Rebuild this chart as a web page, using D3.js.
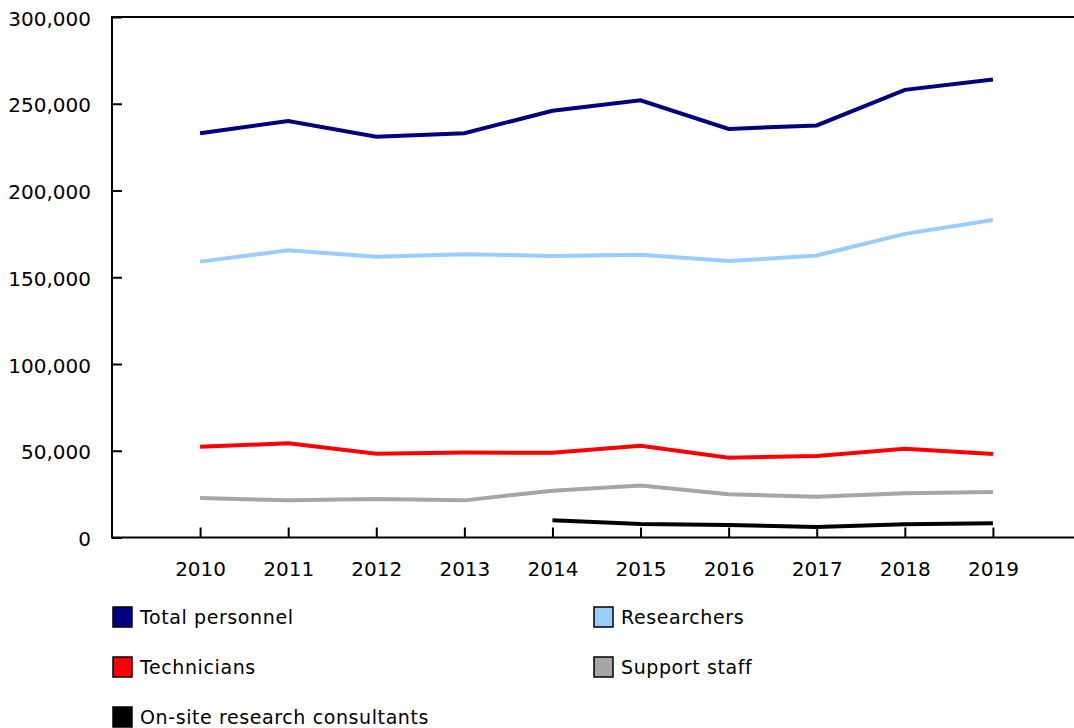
<!DOCTYPE html>
<html lang="en">
<head>
<meta charset="utf-8">
<title>Research personnel</title>
<script src="https://cdn.jsdelivr.net/npm/d3@7"></script>
<style>
  body { margin: 0; background: #fff; }
  svg text { font-family: Verdana, "DejaVu Sans", sans-serif; font-size: 19px; fill: #000; }
  .legend text { letter-spacing: 0.6px; }
</style>
</head>
<body>
<div id="chart"></div>
<script>

// data
var years = ["2010","2011","2012","2013","2014","2015","2016","2017","2018","2019"];
var yTicks = [0, 50000, 100000, 150000, 200000, 250000, 300000];

var totalPersonnel = [233000, 240000, 231000, 233000, 246000, 252000, 235500, 237500, 258000, 264000];
var researchers    = [159000, 165500, 161800, 163300, 162300, 163000, 159300, 162500, 175000, 183000];
var technicians    = [52300, 54300, 48300, 49000, 48800, 52900, 46000, 47000, 51200, 48100];
var supportStaff   = [22800, 21400, 22200, 21400, 27000, 30000, 24900, 23500, 25500, 26200];
var consultants    = [null, null, null, null, 10000, 7800, 7200, 6000, 7600, 8200];

var seriesNames  = ["Total personnel", "Researchers", "Technicians", "Support staff", "On-site research consultants"];
var seriesValues = [totalPersonnel, researchers, technicians, supportStaff, consultants];
var seriesColors = ["#000080", "#99ccff", "#ff0000", "#a6a6a6", "#000000"];

var W = 1074, H = 728;
var mLeft = 112, mRight = 1081, mTop = 17, mBottom = 537.5;

var svg = d3.select("#chart").append("svg")
    .attr("width", W)
    .attr("height", H);

var x = d3.scalePoint().domain(years).range([mLeft, mRight]).padding(1);
var y = d3.scaleLinear().domain([0, 300000]).range([mBottom, mTop]);

/*
 * Axes
 */

var yAxis = d3.axisLeft(y).tickValues(yTicks).tickSize(-10).tickPadding(21)
    .tickFormat(d3.format(","));
var gY = svg.append("g").attr("transform", "translate(" + mLeft + ",0)").call(yAxis);
gY.select(".domain").remove();
gY.selectAll(".tick line").attr("stroke", "#000").attr("stroke-width", 2);
gY.selectAll(".tick text").attr("dy", "0.4em").style("font-size", "20px");

var xAxis = d3.axisBottom(x).tickSize(-10).tickPadding(32);
var gX = svg.append("g").attr("transform", "translate(0," + mBottom + ")").call(xAxis);
gX.select(".domain").remove();
gX.selectAll(".tick line").attr("stroke", "#000").attr("stroke-width", 2);
gX.selectAll(".tick text").attr("dy", "0.3em").style("font-size", "20px");

// frame: left, bottom and top lines
svg.append("path")
  .attr("d", "M" + W + "," + mTop + "H" + mLeft + "V" + mBottom + "H" + W)
  .attr("fill", "none")
  .attr("stroke", "#000")
  .attr("stroke-width", 2);

/*
 * Lines
 */

var line = d3.line()
    .defined(function(d) { return d != null; })
    .x(function(d, i) { return x(years[i]); })
    .y(function(d) { return y(d); });

seriesValues.forEach(function(vals, k) {
  svg.append("path")
    .datum(vals)
    .attr("d", line)
    .attr("fill", "none")
    .attr("stroke", seriesColors[k])
    .attr("stroke-width", 4)
    .attr("stroke-linejoin", "miter");
});

/*
 * Legend
 */

var legend = svg.append("g").attr("class", "legend");
seriesNames.forEach(function(name, k) {
  var lx = (k % 2 == 0) ? 112 : 593;
  var ly = 617 + Math.floor(k / 2) * 50;
  var g = legend.append("g").attr("transform", "translate(" + lx + "," + ly + ")");
  g.append("rect")
    .attr("x", 1).attr("y", -10)
    .attr("width", 19).attr("height", 20)
    .attr("fill", seriesColors[k])
    .attr("stroke", "#000")
    .attr("stroke-width", 1.5);
  g.append("text")
    .attr("x", 28).attr("y", 0).attr("dy", "0.35em")
    .text(name);
});

</script>
</body>
</html>
